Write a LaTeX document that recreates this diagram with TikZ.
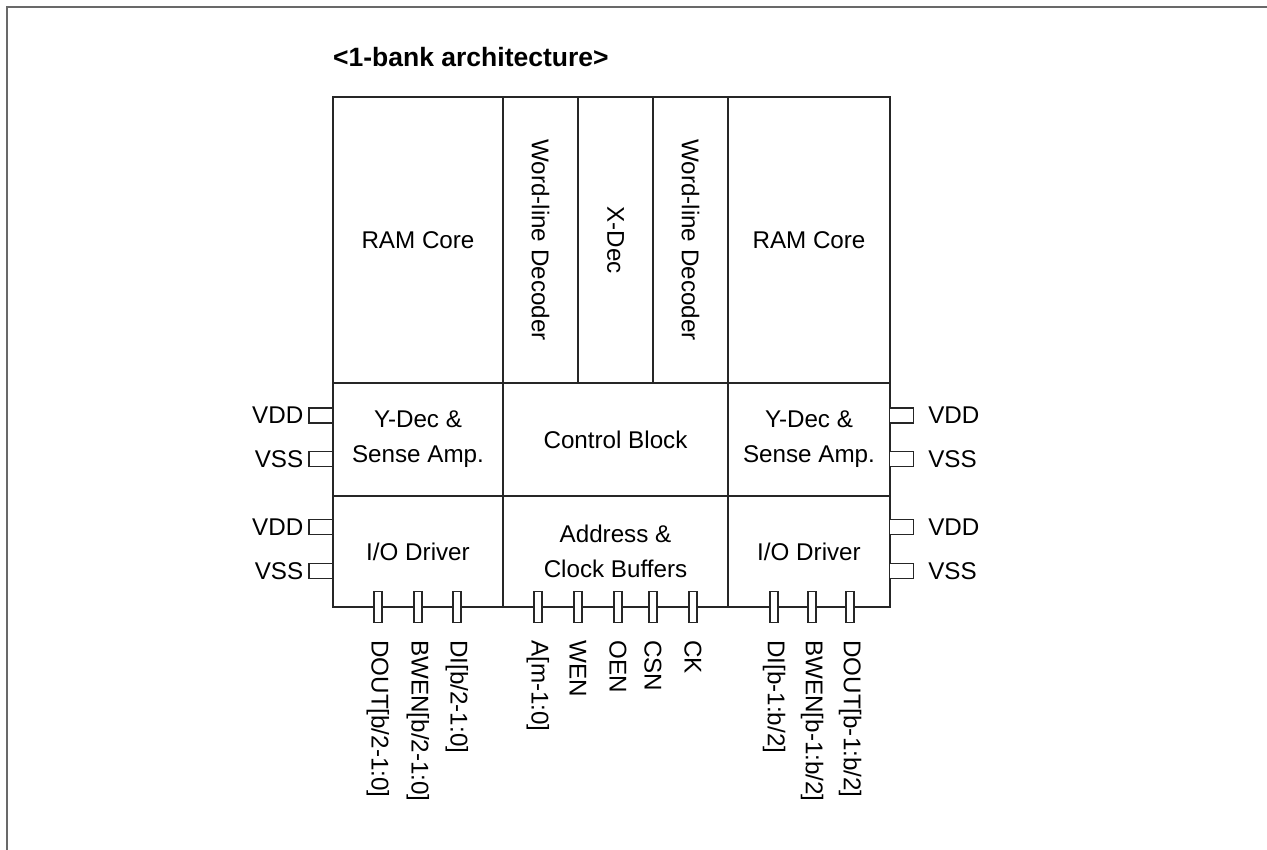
\documentclass[tikz,border=0pt]{standalone}
\usepackage{fontspec}
\setmainfont{Liberation Sans}
\begin{document}
\begin{tikzpicture}[x=1pt,y=1pt,
  txt/.style={font=\fontsize{24.2}{35}\selectfont},
  lbl/.style={txt, inner sep=0pt},
  cell/.style={draw=black!85, line width=1.1pt, inner sep=0pt, align=center, txt},
  hpin/.style={draw=black!85, line width=1.1pt, fill=white, minimum width=24pt, minimum height=15pt, inner sep=0pt},
  vpin/.style={draw=black!85, line width=1.1pt, fill=white, minimum width=8pt, minimum height=31pt, inner sep=0pt},
  vlbl/.style={lbl, rotate=-90, anchor=west},
  frameline/.style={draw={rgb,255:red,105;green,105;blue,105}, line width=2pt}
]
\useasboundingbox (0,0) rectangle (1267,-850);
\coordinate (fbl) at (7,-851);
\coordinate (ftl) at (7,-7);
\coordinate (ftr) at (1268,-7);
\draw[frameline] (fbl) -- (ftl) -- (ftr);

\node[anchor=west, inner sep=0pt, font=\bfseries\fontsize{26.5}{30}\selectfont] (title) at (333,-57) {<1-bank architecture>};

% top row
\node[cell, minimum width=170pt, minimum height=286pt] (ramL) at (418,-240) {RAM Core};
\node[cell, rotate=-90, minimum width=286pt, minimum height=75pt] (wlL) at (540.5,-240) {Word-line Decoder};
\node[cell, rotate=-90, minimum width=286pt, minimum height=75pt] (xdec) at (615.5,-240) {X-Dec};
\node[cell, rotate=-90, minimum width=286pt, minimum height=75pt] (wlR) at (690.5,-240) {Word-line Decoder};
\node[cell, minimum width=162pt, minimum height=286pt] (ramR) at (809,-240) {RAM Core};
% middle row
\node[cell, minimum width=170pt, minimum height=113pt] (ydecL) at (418,-439.5) {Y-Dec \&\\Sense Amp.};
\node[cell, minimum width=225pt, minimum height=113pt] (ctrl) at (615.5,-439.5) {Control Block};
\node[cell, minimum width=162pt, minimum height=113pt] (ydecR) at (809,-439.5) {Y-Dec \&\\Sense Amp.};
% bottom row
\node[cell, minimum width=170pt, minimum height=111pt] (ioL) at (418,-551.5) {I/O Driver};
\node[cell, minimum width=225pt, minimum height=111pt] (addr) at (615.5,-551.5) {Address \&\\Clock Buffers};
\node[cell, minimum width=162pt, minimum height=111pt] (ioR) at (809,-551.5) {I/O Driver};

% side power pins
\node[hpin] (lvdd1) at (321,-415.5) {};
\node[hpin] (lvss1) at (321,-459) {};
\node[hpin] (lvdd2) at (321,-527) {};
\node[hpin] (lvss2) at (321,-571) {};
\node[hpin] (rvdd1) at (901.5,-415.5) {};
\node[hpin] (rvss1) at (901.5,-459) {};
\node[hpin] (rvdd2) at (901.5,-527) {};
\node[hpin] (rvss2) at (901.5,-571) {};
\foreach \p/\t in {lvdd1/VDD, lvss1/VSS, lvdd2/VDD, lvss2/VSS} {
  \node[lbl, anchor=east] (\p-t) at ([xshift=-5pt]\p.west) {\t};
}
\foreach \p/\t in {rvdd1/VDD, rvss1/VSS, rvdd2/VDD, rvss2/VSS} {
  \node[lbl, anchor=west] (\p-t) at ([xshift=14pt]\p.east) {\t};
}

% bottom signal pins
\foreach \n/\x/\t in {p1/378/{DOUT[b/2-1:0]}, p2/418/{BWEN[b/2-1:0]}, p3/457/{DI[b/2-1:0]},
                      p4/538/{A[m-1:0]}, p5/578/{WEN}, p6/618/{OEN}, p7/653/{CSN}, p8/693/{CK},
                      p9/774/{DI[b-1:b/2]}, p10/812/{BWEN[b-1:b/2]}, p11/850/{DOUT[b-1:b/2]}} {
  \node[vpin] (\n) at (\x,-607) {};
  \node[vlbl] (\n-t) at ([yshift=-17pt]\n.south) {\t};
}
\end{tikzpicture}
\end{document}
